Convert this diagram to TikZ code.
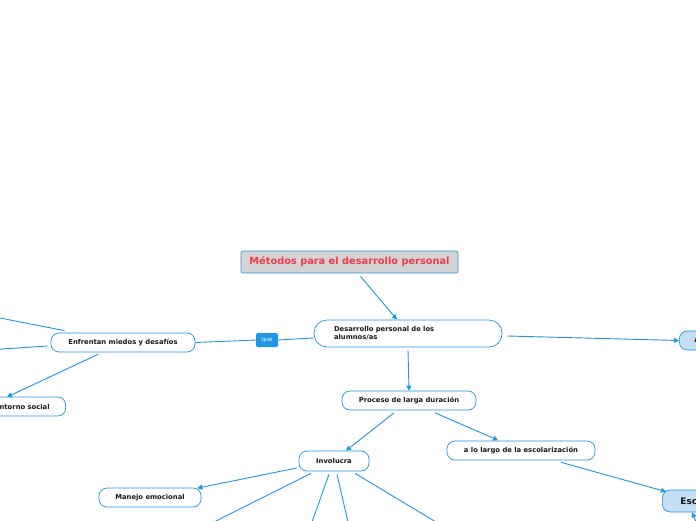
\documentclass[tikz,border=0pt]{standalone}
\usepackage{fontspec}
\setmainfont{DejaVu Sans}
\usetikzlibrary{arrows.meta}
\definecolor{lblue}{RGB}{30,150,225}
\definecolor{tgray}{RGB}{211,211,213}
\definecolor{tred}{RGB}{240,58,72}
\definecolor{pblue}{RGB}{197,224,245}
\tikzset{
  conn/.style={draw=lblue, line width=0.9pt},
  arr/.style={conn, -{Triangle[length=5pt,width=5pt]}},
  pill/.style={draw=lblue, line width=0.7pt, fill=white, rounded corners=8pt, inner sep=0pt,
    font=\fontsize{6.8}{8}\selectfont\bfseries, text=black!90},
  bluepill/.style={pill, fill=pblue},
  titlebox/.style={draw=lblue, line width=0.6pt, fill=tgray, rounded corners=2pt, inner sep=0pt,
    font=\fontsize{9.8}{11}\selectfont\bfseries, text=tred},
  quebox/.style={fill=lblue, rounded corners=1.5pt, inner sep=0pt, text=white,
    font=\fontsize{6}{7}\selectfont}
}
\begin{document}
\begin{tikzpicture}[x=1pt,y=-1pt]
\useasboundingbox (0,0) rectangle (696,520);
\clip (0,0) rectangle (696,520);
% nodes
\node[titlebox, minimum width=217pt, minimum height=22pt] (title) at (349.5,262) {Métodos para el desarrollo personal};
\node[pill, rounded corners=13pt, minimum width=188pt, minimum height=27pt, text width=160pt, align=left] (des) at (408,333.5) {\hspace*{6pt}Desarrollo personal de los\\\hspace*{6pt}alumnos/as};
\node[pill, minimum width=144pt, minimum height=19pt] (enf) at (123,342.5) {Enfrentan miedos y desafíos};
\node[quebox, minimum width=22pt, minimum height=14pt] (que) at (267,340) {que};
\node[pill, inner xsep=16pt, minimum height=19pt, anchor=east] (ent) at (66,406.5) {Entorno social};
\node[bluepill, inner xsep=15pt, minimum height=19pt, anchor=west] (apr) at (679,340.5) {A};
\node[pill, minimum width=134pt, minimum height=19pt] (pro) at (409,400.5) {Proceso de larga duración};
\node[pill, minimum width=70pt, minimum height=20pt] (inv) at (334,461) {Involucra};
\node[pill, minimum width=148pt, minimum height=19pt] (alo) at (521,450.5) {a lo largo de la escolarización};
\node[bluepill, inner xsep=18pt, minimum height=22pt, anchor=west, font=\fontsize{9}{10}\selectfont\bfseries] (esc) at (662,501) {Escuela};
\node[pill, minimum width=102pt, minimum height=19pt] (man) at (150,497.5) {Manejo emocional};
% connector end points
\coordinate (l1) at (-5,317);
\coordinate (l2) at (-5,349.5);
\coordinate (b1) at (214,522);
\coordinate (b2) at (312,522);
\coordinate (b3) at (348,522);
\coordinate (b4) at (436,522);
\coordinate (b5) at (697,524);
% connectors
\draw[arr] ([shift={(11,3)}]title.south) -- ([shift={(-11,0)}]des.north);
\draw[conn] ([shift={(0,4.5)}]des.west) -- (que.east);
\draw[conn] (que.west) -- (enf.east);
\draw[conn] ([shift={(14,-2)}]enf.north west) -- (l1);
\draw[conn] ([shift={(-3,3.5)}]enf.west) -- (l2);
\draw[arr] ([shift={(-25,2)}]enf.south) -- (7,397) coordinate (entin);
\draw[arr] ([shift={(5,2.5)}]des.east) -- (apr.west);
\draw[arr] ([shift={(0,3)}]des.south) -- (pro.north);
\draw[arr] ([shift={(-15,2.5)}]pro.south) -- ([shift={(12,0)}]inv.north);
\draw[arr] ([shift={(26,2.5)}]pro.south) -- ([shift={(-23,-0.5)}]alo.north);
\draw[arr] ([shift={(40,2)}]alo.south) -- ([shift={(4,2)}]esc.north west);
\draw[arr] (b5) -- ([shift={(30,0)}]esc.south west);
\draw[arr] ([shift={(-2,7)}]inv.west) -- ([shift={(-4,0.5)}]man.north east);
\draw[conn] ([shift={(-23,2)}]inv.south) -- (b1);
\draw[conn] ([shift={(-5,3)}]inv.south) -- (b2);
\draw[conn] ([shift={(3,3)}]inv.south) -- (b3);
\draw[conn] ([shift={(21,2)}]inv.south) -- (b4);
\end{tikzpicture}
\end{document}
